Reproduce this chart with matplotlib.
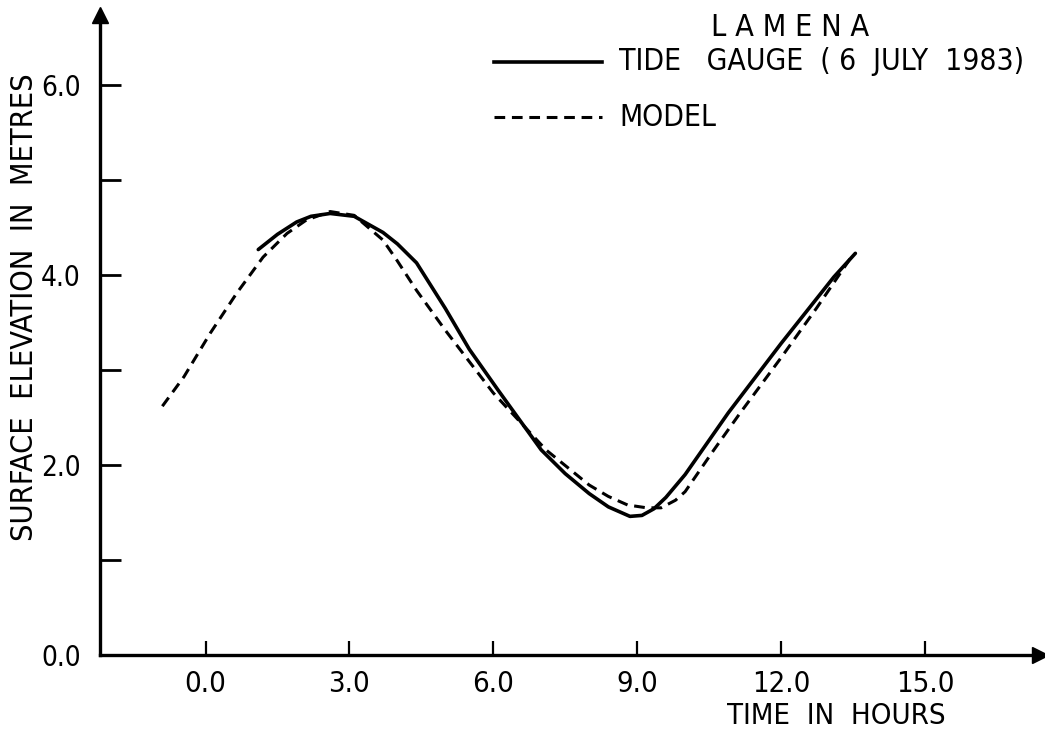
import matplotlib
matplotlib.use("Agg")
import matplotlib.pyplot as plt

# tide gauge record (6 July 1983)
gauge_t = [1.1, 1.5, 1.9, 2.2, 2.6, 3.1, 3.7, 4.0, 4.4, 5.0, 5.5, 6.1, 7.0, 7.5, 8.0, 8.4,
           8.85, 9.1, 9.35, 9.6, 10.0, 10.9, 12.0, 13.1, 13.55]
gauge_h = [4.27, 4.43, 4.56, 4.62, 4.65, 4.62, 4.45, 4.33, 4.13, 3.65, 3.22, 2.79, 2.16, 1.91,
           1.70, 1.56, 1.46, 1.47, 1.54, 1.66, 1.90, 2.55, 3.28, 3.98, 4.23]

# model output
model_t = [-0.9, -0.45, 0.1, 0.65, 1.2, 1.7, 2.1, 2.6, 3.1, 3.7, 4.0, 4.4, 5.0, 6.0, 7.1,
           8.0, 8.4, 8.8, 9.2, 9.5, 9.8, 10.0, 10.6, 11.15, 12.0, 12.75, 13.45]
model_h = [2.62, 2.93, 3.39, 3.81, 4.19, 4.44, 4.58, 4.67, 4.63, 4.37, 4.15, 3.84, 3.42, 2.76,
           2.16, 1.79, 1.67, 1.58, 1.55, 1.55, 1.63, 1.72, 2.16, 2.55, 3.13, 3.66, 4.18]

x_ticks = [0, 3, 6, 9, 12, 15]
x_labels = ["0.0", "3.0", "6.0", "9.0", "12.0", "15.0"]
y_ticks = [0, 1, 2, 3, 4, 5, 6]
y_labels = ["0.0", "", "2.0", "", "4.0", "", "6.0"]

plt.rcParams["font.family"] = ["DejaVu Sans"]
plt.rcParams["font.stretch"] = "condensed"

DASH = (0, (3.5, 2.2))


def main():
    fig = plt.figure(figsize=(10.45, 7.29), dpi=100)
    ax = fig.add_axes([100 / 1045, 74 / 729, 940 / 1045, 640 / 729])

    ax.plot(gauge_t, gauge_h, color="black", lw=2.6, solid_capstyle="round",
            solid_joinstyle="round")
    ax.plot(model_t, model_h, color="black", lw=2.2, ls=DASH)

    ax.set_xlim(-2.2, 17.4)
    ax.set_ylim(0, 6.74)

    for s in ["top", "right"]:
        ax.spines[s].set_visible(False)
    for s in ["left", "bottom"]:
        ax.spines[s].set_linewidth(2.4)

    # arrow heads on the axes
    ax.plot(1, 0, ">", color="black", ms=12, transform=ax.transAxes, clip_on=False)
    ax.plot(0, 1, "^", color="black", ms=12, transform=ax.transAxes, clip_on=False)

    ax.set_xticks(x_ticks)
    ax.set_xticklabels(x_labels)
    ax.set_yticks(y_ticks)
    ax.set_yticklabels(y_labels)
    ax.tick_params(axis="x", direction="in", length=10, width=1.6, labelsize=21, pad=11)
    ax.tick_params(axis="y", direction="in", length=15, width=2, labelsize=20, pad=14)

    fig.text(25 / 1045, 1 - 307 / 729, "SURFACE  ELEVATION  IN  METRES", rotation=90,
             ha="center", va="center", fontsize=22)
    fig.text(836 / 1045, 1 - 716 / 729, "TIME  IN  HOURS", ha="center", va="center", fontsize=21)

    # legend block
    fig.text(790 / 1045, 1 - 28 / 729, "L A M E N A", ha="center", va="center", fontsize=22)
    fig.add_artist(plt.Line2D([494 / 1045, 602 / 1045], [1 - 62 / 729] * 2,
                              color="black", lw=2.6, transform=fig.transFigure))
    fig.text(619 / 1045, 1 - 62 / 729, "TIDE   GAUGE  ( 6  JULY  1983)", ha="left",
             va="center", fontsize=21.5)
    fig.add_artist(plt.Line2D([494 / 1045, 602 / 1045], [1 - 117 / 729] * 2,
                              color="black", lw=2.2, ls=DASH, transform=fig.transFigure))
    fig.text(619 / 1045, 1 - 117 / 729, "MODEL", ha="left", va="center", fontsize=21.5)

    fig.savefig("out.png", dpi=100)


if __name__ == "__main__":
    main()
